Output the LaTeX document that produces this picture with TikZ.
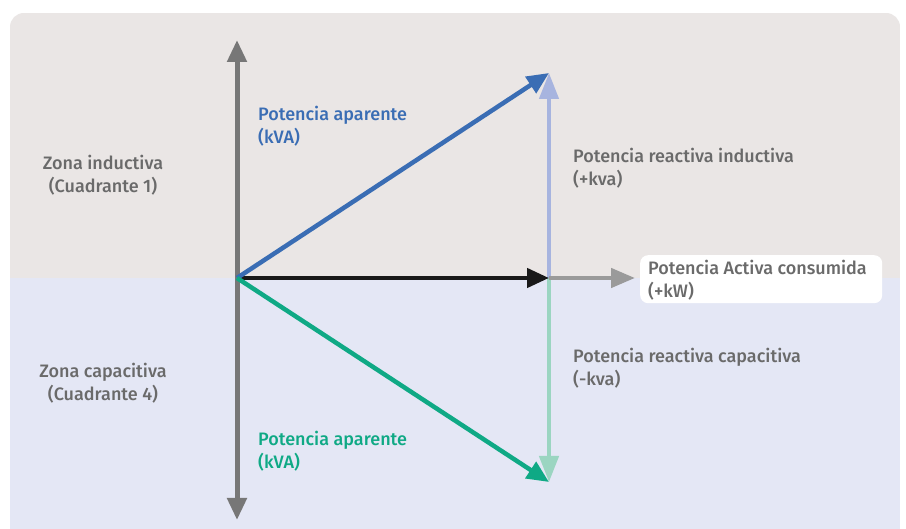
\documentclass[tikz,border=0pt]{standalone}
\usepackage{fontspec}
\setmainfont{Fira Sans}[UprightFont=* Medium, BoldFont=* SemiBold]
\usetikzlibrary{arrows.meta}
\definecolor{topbg}{HTML}{EAE6E5}
\definecolor{botbg}{HTML}{E4E7F5}
\definecolor{txtgray}{HTML}{6A6A6A}
\definecolor{vblue}{HTML}{3A6DB4}
\definecolor{lblue}{HTML}{A7B4DF}
\definecolor{vgreen}{HTML}{0FA985}
\definecolor{lgreen}{HTML}{9BD5C1}
\definecolor{axgray}{HTML}{777777}
\definecolor{hgray}{HTML}{9A9A9A}
\begin{document}
\begin{tikzpicture}[x=1pt,y=-1pt,
  lbl/.style={font=\fontsize{18}{23}\selectfont, text=txtgray, align=left, anchor=base west, inner sep=0pt},
  zone/.style={font=\fontsize{18}{23}\selectfont, text=txtgray, align=center, anchor=base, inner sep=0pt},
  tip/.style={-{Triangle[length=22pt,width=19pt]}},
  vec/.style={line width=4.5pt, tip}]
\useasboundingbox (0,0) rectangle (906,529);
\fill[white] (0,0) rectangle (906,529);
\begin{scope}
\clip[rounded corners=14pt] (10,13) rectangle (900,560);
\fill[topbg] (10,13) rectangle (900,278);
\fill[botbg] (10,278) rectangle (900,560);
\end{scope}
% coordinates
\coordinate (O) at (237,278);
\coordinate (Atop) at (237,40);
\coordinate (Abot) at (237,520);
\coordinate (P) at (549,278);
\coordinate (S) at (549,73);
\coordinate (C) at (549,482);
\coordinate (H) at (635,278);
% white label box
\node[fill=white, rounded corners=8pt, minimum width=242pt, minimum height=48pt, anchor=north west] (box) at (640,255) {};
\node[lbl] (pac) at (648,298) {Potencia Activa consumida\\(+kW)};
% axis
\draw[line width=5pt, axgray, tip] (O) -- (Atop);
\draw[line width=5pt, axgray, tip] (O) -- (Abot);
% reactive vertical arrows
\draw[line width=4.5pt, lblue, -{Triangle[length=26pt,width=19pt]}] (P) -- (S);
\draw[line width=4.5pt, lgreen, -{Triangle[length=26pt,width=19pt]}] (P) -- (C);
% horizontal
\draw[line width=4.5pt, hgray, -{Triangle[length=24pt,width=19pt]}] (P) -- (H);
\draw[vec, black!90] (O) -- (P);
% apparent
\draw[vec, vblue] (O) -- (S);
\draw[vec, vgreen] (O) -- (C);
% labels
\node[lbl, text=vblue] (ap1) at (258,144) {Potencia aparente\\(kVA)};
\node[lbl, text=vgreen] (ap2) at (258,469) {Potencia aparente\\(kVA)};
\node[lbl] (ri) at (573,186) {Potencia reactiva inductiva\\(+kva)};
\node[lbl] (rc) at (573,386) {Potencia reactiva capacitiva\\(-kva)};
\node[zone] (z1) at (103,193) {Zona inductiva\\(Cuadrante 1)};
\node[zone] (z4) at (103,401) {Zona capacitiva\\(Cuadrante 4)};
\end{tikzpicture}
\end{document}
